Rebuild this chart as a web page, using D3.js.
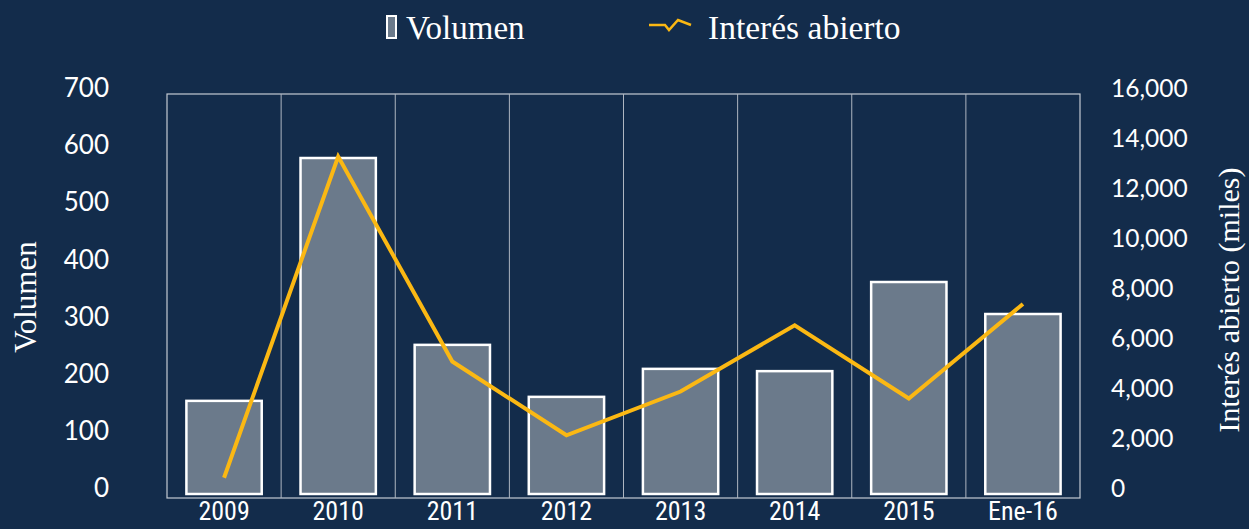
<!DOCTYPE html>
<html>
<head>
<meta charset="utf-8">
<script src="https://cdn.jsdelivr.net/npm/d3@7"></script>
<style>
  body { margin: 0; background: #132c4b; }
  svg { display: block; }
</style>
</head>
<body>
<div id="chart"></div>
<script>
var categories = ["2009", "2010", "2011", "2012", "2013", "2014", "2015", "Ene-16"];
var volumen = [163, 588, 261, 170, 219, 215, 371, 315];
var interes = [650, 13500, 5300, 2350, 4100, 6750, 3820, 7600];
var leftTicks = [0, 100, 200, 300, 400, 500, 600, 700];
var rightTicks = [0, 2000, 4000, 6000, 8000, 10000, 12000, 14000, 16000];

var width = 1249,
    height = 529;
var margin = { top: 94, right: 169, bottom: 33, left: 167 };

var svg = d3.select("#chart")
            .append("svg")
            .attr("width", width)
            .attr("height", height);

svg.append("rect")
   .attr("width", width)
   .attr("height", height)
   .attr("fill", "#132c4b");

var x = d3.scaleBand()
          .domain(categories)
          .range([margin.left, width - margin.right])
          .paddingInner(0)
          .paddingOuter(0);

var yL = d3.scaleLinear().domain([0, 700]).range([height - margin.bottom - 2, margin.top]);
var yR = d3.scaleLinear().domain([0, 16000]).range([height - margin.bottom - 2, margin.top]);

var bottom = height - margin.bottom + 2;

// plot box + separators
svg.append("rect")
   .attr("x", margin.left)
   .attr("y", margin.top)
   .attr("width", width - margin.left - margin.right)
   .attr("height", bottom - margin.top)
   .attr("fill", "none")
   .attr("stroke", "#c4cad3")
   .attr("stroke-width", 1.2);

categories.slice(1).forEach(function (c) {
  svg.append("line")
     .attr("x1", x(c)).attr("x2", x(c))
     .attr("y1", margin.top).attr("y2", bottom)
     .attr("stroke", "#aeb6c1")
     .attr("stroke-width", 1);
});

// bars
var bw = x.bandwidth() * 0.66;
svg.selectAll(".bar")
   .data(volumen)
   .enter().append("rect")
   .attr("class", "bar")
   .attr("x", function (d, i) { return x(categories[i]) + (x.bandwidth() - bw) / 2; })
   .attr("y", function (d) { return yL(d); })
   .attr("width", bw)
   .attr("height", function (d) { return yL(0) - yL(d); })
   .attr("fill", "#6b7a8b")
   .attr("stroke", "#ffffff")
   .attr("stroke-width", 2.5);

// line
var line = d3.line()
             .x(function (d, i) { return x(categories[i]) + x.bandwidth() / 2; })
             .y(function (d) { return yR(d); });

svg.append("path")
   .datum(interes)
   .attr("d", line)
   .attr("fill", "none")
   .attr("stroke", "#fbb813")
   .attr("stroke-width", 4)
   .attr("stroke-linejoin", "miter");

// left axis
var axisL = d3.axisLeft(yL).tickValues(leftTicks).tickSize(0).tickPadding(0);
var gL = svg.append("g")
            .attr("transform", "translate(109,0)")
            .call(axisL);
gL.select(".domain").remove();
gL.selectAll("text")
  .attr("fill", "#ffffff")
  .attr("font-family", "Lato, 'Open Sans', sans-serif")
  .attr("font-size", 26)
  .attr("dy", "0.1em");

// right axis
var axisR = d3.axisRight(yR).tickValues(rightTicks).tickSize(0).tickPadding(0)
              .tickFormat(d3.format(","));
var gR = svg.append("g")
            .attr("transform", "translate(1111,0)")
            .call(axisR);
gR.select(".domain").remove();
gR.selectAll("text")
  .attr("fill", "#ffffff")
  .attr("font-family", "Lato, 'Open Sans', sans-serif")
  .attr("font-size", 24.5)
  .attr("dy", "0.1em");

// x axis
var axisX = d3.axisBottom(x).tickSize(0).tickPadding(0);
var gX = svg.append("g")
            .attr("transform", "translate(0," + (bottom + 2) + ")")
            .call(axisX);
gX.select(".domain").remove();
gX.selectAll("text")
  .attr("fill", "#ffffff")
  .attr("font-family", "'Liberation Sans Narrow', 'Roboto Condensed', 'DejaVu Sans Condensed', sans-serif")
  .attr("font-size", 26)
  .attr("dy", "0.78em");

// axis titles
svg.append("text")
   .attr("transform", "translate(36,297) rotate(-90)")
   .attr("text-anchor", "middle")
   .attr("fill", "#ffffff")
   .attr("font-family", "'Liberation Serif', 'DejaVu Serif', serif")
   .attr("font-size", 31)
   .text("Volumen");

svg.append("text")
   .attr("transform", "translate(1239,300) rotate(-90)")
   .attr("text-anchor", "middle")
   .attr("fill", "#ffffff")
   .attr("font-family", "'Liberation Serif', 'DejaVu Serif', serif")
   .attr("font-size", 30)
   .text("Interés abierto (miles)");

// legend
svg.append("rect")
   .attr("x", 387).attr("y", 16)
   .attr("width", 9).attr("height", 22)
   .attr("fill", "#6b7a8b")
   .attr("stroke", "#ffffff")
   .attr("stroke-width", 2);

svg.append("text")
   .attr("x", 406).attr("y", 39)
   .attr("fill", "#ffffff")
   .attr("font-family", "'Liberation Serif', 'DejaVu Serif', serif")
   .attr("font-size", 33)
   .text("Volumen");

svg.append("path")
   .attr("d", "M649,25 L665,25 L669,30 L678,20 L691,25")
   .attr("fill", "none")
   .attr("stroke", "#fbb813")
   .attr("stroke-width", 2.5);

svg.append("text")
   .attr("x", 708).attr("y", 39)
   .attr("fill", "#ffffff")
   .attr("font-family", "'Liberation Serif', 'DejaVu Serif', serif")
   .attr("font-size", 33.5)
   .text("Interés abierto");
</script>
</body>
</html>
